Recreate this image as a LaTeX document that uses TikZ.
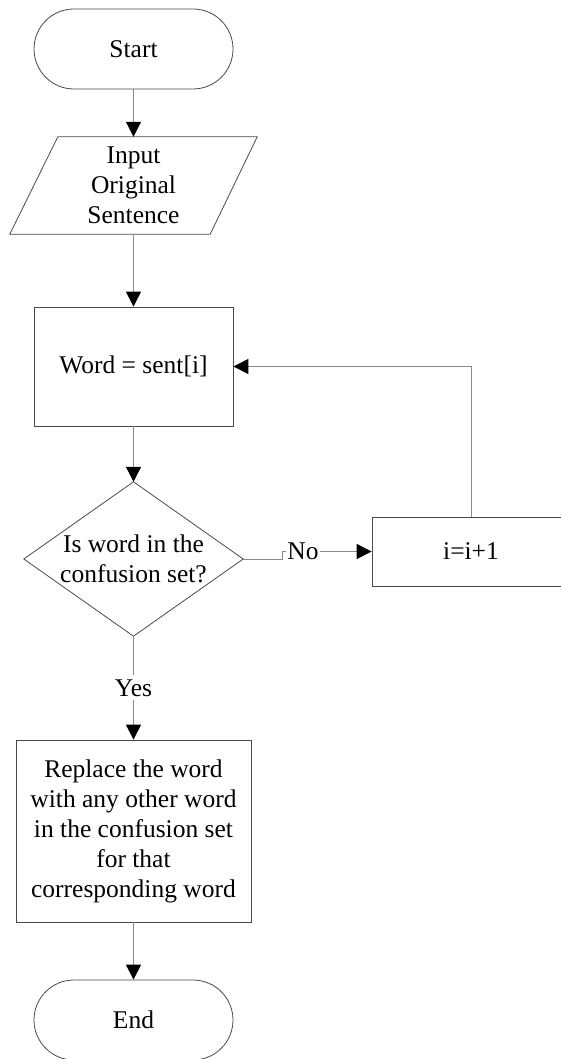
\documentclass[tikz,border=0pt]{standalone}
\usepackage{fontspec}
\setmainfont{Liberation Serif}
\usetikzlibrary{arrows.meta,calc}

\definecolor{outline}{HTML}{4A4A4A}
\definecolor{wire}{HTML}{8A8A8A}

\tikzset{
  every node/.style={font=\fontsize{25.5}{30}\selectfont, align=center, inner sep=0pt},
  terminal/.style={draw=outline, line width=0.8pt, rounded corners=40pt,
                   minimum width=199pt, minimum height=80pt},
  process/.style={draw=outline, line width=0.8pt, rectangle},
  frame/.style={rectangle},
  outlined/.style={draw=outline, line width=0.8pt},
  flow/.style={draw=wire, line width=1pt,
               -{Triangle[width=15pt,length=15pt,color=black]}},
  plain/.style={draw=wire, line width=1pt},
  tag/.style={fill=white, inner xsep=1pt, inner ysep=4pt}
}

\begin{document}
\begin{tikzpicture}[x=1pt,y=-1pt]
  \useasboundingbox (0,0) rectangle (561,1059);
  \clip (0,0) rectangle (561,1059);
  \fill[white] (0,0) rectangle (561,1059);

  % shapes
  \node[terminal] (start) at (133.5,49) {Start};

  \node[frame, minimum width=247pt, minimum height=97pt] (inp) at (133.5,185.5)
    {Input\\Original\\Sentence};
  \draw[outlined] ($(inp.north west)+(48,0)$) -- (inp.north east)
    -- ($(inp.south east)+(-47,0)$) -- (inp.south west) -- cycle;

  \node[process, minimum width=199pt, minimum height=119pt] (word) at (133.5,366.5)
    {Word = sent[i]};

  \node[frame, minimum width=219pt, minimum height=154pt] (dec) at (133.5,559)
    {Is word in the\\confusion set?};
  \draw[outlined] (dec.north) -- (dec.east) -- (dec.south) -- (dec.west) -- cycle;

  \node[process, minimum width=198pt, minimum height=69pt] (inc) at (471,551.5)
    {i=i+1};

  \node[process, minimum width=235pt, minimum height=182pt] (rep) at (133.5,831)
    {Replace the word\\with any other word\\in the confusion set\\for that\\corresponding word};

  \node[terminal] (stop) at (133.5,1020) {End};

  % connectors
  \draw[flow] (start) -- (inp.north);
  \draw[flow] (inp.south) -- (word);
  \draw[flow] (word) -- (dec.north);

  \draw[plain] (dec.east) -- ++(39,0) coordinate (j1) -- (j1 |- inc.west) coordinate (j2);
  \draw[flow] (j2) -- node[tag, pos=0.233] {No} (inc.west);

  \draw[flow] (inc.north) |- (word.east);

  \draw[flow] (dec.south) -- node[tag, pos=0.5] {Yes} (rep.north);
  \draw[flow] (rep.south) -- (stop.north);
\end{tikzpicture}
\end{document}
